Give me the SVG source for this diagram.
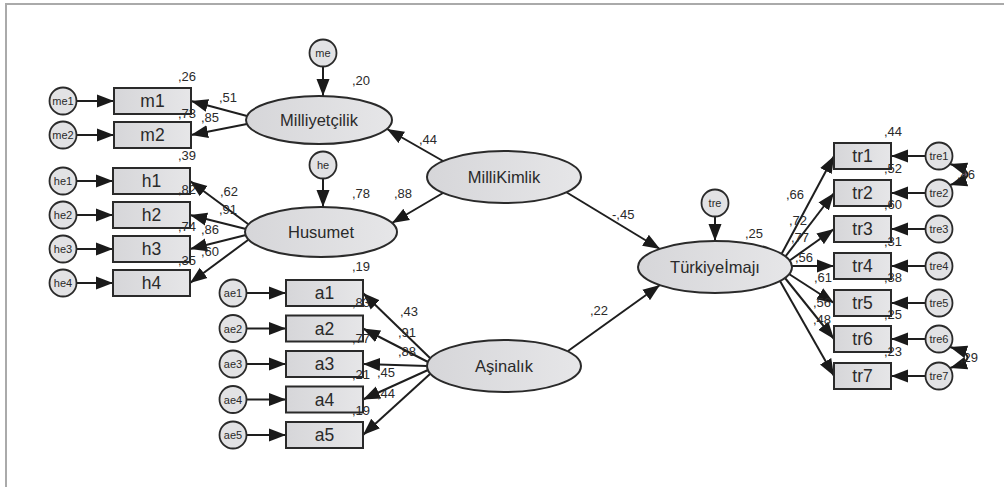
<svg xmlns="http://www.w3.org/2000/svg" width="1004" height="487" viewBox="0 0 1004 487">
<style>
.bg{fill:#fff}
.frame{stroke:#aaa;stroke-width:2;fill:none}
.obs{fill:url(#g);stroke:#2a2a2a;stroke-width:2}
.lat{fill:url(#g);stroke:#2a2a2a;stroke-width:2}
.err{fill:#e2e2e4;stroke:#2a2a2a;stroke-width:1.8}
.c{stroke:#1e1e1e;stroke-width:2;fill:none;marker-end:url(#ah)}
.cov{stroke:#1e1e1e;stroke-width:2;fill:none;marker-end:url(#ah);marker-start:url(#ah)}
text{font-family:"Liberation Sans",Arial,sans-serif;fill:#2a2a2a}
.ol{font-size:17.5px;text-anchor:middle}
.ll{font-size:16.5px;text-anchor:middle}
.el{font-size:11px;text-anchor:middle}
.k{font-size:13px}
</style>
<defs>
<linearGradient id="g" x1="0" y1="0" x2="1" y2="0">
<stop offset="0" stop-color="#d6d6d9"/>
<stop offset="1" stop-color="#e6e6e8"/>
</linearGradient>
<marker id="ah" markerWidth="18" markerHeight="14" refX="17" refY="7" orient="auto-start-reverse" markerUnits="userSpaceOnUse">
<path d="M0,0.5 L17,7 L0,13.5 z" fill="#1a1a1a"/>
</marker>
</defs>
<rect class="bg" x="0" y="0" width="1004" height="487"/>
<path class="frame" d="M6,487 L6,4 L1004,4"/>

<g id="connectors">
<line class="c" x1="76.5" y1="101" x2="114" y2="101"/>
<line class="c" x1="76.5" y1="135" x2="114" y2="135"/>
<line class="c" x1="76.5" y1="181" x2="113" y2="181"/>
<line class="c" x1="76.5" y1="215" x2="113" y2="215"/>
<line class="c" x1="76.5" y1="249" x2="113" y2="249"/>
<line class="c" x1="76.5" y1="283" x2="113" y2="283"/>
<line class="c" x1="246.5" y1="293" x2="286" y2="293"/>
<line class="c" x1="246.5" y1="328.5" x2="286" y2="328.5"/>
<line class="c" x1="246.5" y1="364" x2="286" y2="364"/>
<line class="c" x1="246.5" y1="399.5" x2="286" y2="399.5"/>
<line class="c" x1="246.5" y1="435" x2="286" y2="435"/>
<line class="c" x1="925.5" y1="156" x2="891" y2="156"/>
<line class="c" x1="925.5" y1="193" x2="891" y2="193"/>
<line class="c" x1="925.5" y1="229" x2="891" y2="229"/>
<line class="c" x1="925.5" y1="266" x2="891" y2="266"/>
<line class="c" x1="925.5" y1="303" x2="891" y2="303"/>
<line class="c" x1="925.5" y1="339" x2="891" y2="339"/>
<line class="c" x1="925.5" y1="376" x2="891" y2="376"/>
<line class="c" x1="323" y1="67" x2="323" y2="96"/>
<line class="c" x1="323" y1="178.5" x2="323" y2="207"/>
<line class="c" x1="715" y1="216.5" x2="715" y2="241"/>
<line class="c" x1="247" y1="116" x2="191" y2="101"/>
<line class="c" x1="247" y1="124" x2="191" y2="135"/>
<line class="c" x1="248" y1="224" x2="190" y2="181"/>
<line class="c" x1="246" y1="229" x2="190" y2="215"/>
<line class="c" x1="246" y1="235" x2="190" y2="249"/>
<line class="c" x1="248" y1="240" x2="190" y2="283"/>
<line class="c" x1="430" y1="358" x2="363" y2="293"/>
<line class="c" x1="428" y1="362" x2="363" y2="328.5"/>
<line class="c" x1="427" y1="366" x2="363" y2="364"/>
<line class="c" x1="428" y1="370" x2="363" y2="399.5"/>
<line class="c" x1="430" y1="374" x2="363" y2="435"/>
<line class="c" x1="443" y1="161" x2="387" y2="129"/>
<line class="c" x1="443" y1="193" x2="392" y2="223"/>
<line class="c" x1="566" y1="192" x2="660" y2="249"/>
<line class="c" x1="568" y1="351" x2="660" y2="285"/>
<line class="c" x1="781" y1="255" x2="834" y2="156"/>
<line class="c" x1="785" y1="257" x2="834" y2="193"/>
<line class="c" x1="789" y1="261" x2="834" y2="229"/>
<line class="c" x1="792" y1="266" x2="834" y2="266"/>
<line class="c" x1="789" y1="274" x2="834" y2="303"/>
<line class="c" x1="785" y1="278" x2="834" y2="339"/>
<line class="c" x1="780" y1="281" x2="834" y2="376"/>
<path class="cov" d="M950,164 Q985,174.5 950,185"/>
<path class="cov" d="M950,347 Q985,357.5 950,368"/>
</g>

<g id="Milliyetcilik"><ellipse class="lat" cx="319" cy="120" rx="73" ry="24"/><text class="ll" x="319" y="126">Milliyetçilik</text></g>
<g id="Husumet"><ellipse class="lat" cx="321" cy="232" rx="76" ry="25"/><text class="ll" x="321" y="238">Husumet</text></g>
<g id="MilliKimlik"><ellipse class="lat" cx="504" cy="177" rx="77" ry="26"/><text class="ll" x="504" y="183">MilliKimlik</text></g>
<g id="Asinalik"><ellipse class="lat" cx="504" cy="366" rx="77" ry="26"/><text class="ll" x="504" y="372">Aşinalık</text></g>
<g id="TurkiyeImaji"><ellipse class="lat" cx="715" cy="267" rx="77" ry="26"/><text class="ll" x="715" y="273">Türkiyeİmajı</text></g>

<g id="me"><circle class="err" cx="323" cy="53" r="13.5"/><text class="el" x="323" y="57">me</text></g>
<g id="he"><circle class="err" cx="323" cy="165" r="13.5"/><text class="el" x="323" y="169">he</text></g>
<g id="tre"><circle class="err" cx="715" cy="203" r="13.5"/><text class="el" x="715" y="207">tre</text></g>

<g id="m1"><rect class="obs" x="114" y="88" width="77" height="26"/><text class="ol" x="152.5" y="107">m1</text></g>
<g id="m2"><rect class="obs" x="114" y="122" width="77" height="26"/><text class="ol" x="152.5" y="141">m2</text></g>
<g id="h1"><rect class="obs" x="113" y="168" width="77" height="26"/><text class="ol" x="151.5" y="187">h1</text></g>
<g id="h2"><rect class="obs" x="113" y="202" width="77" height="26"/><text class="ol" x="151.5" y="221">h2</text></g>
<g id="h3"><rect class="obs" x="113" y="236" width="77" height="26"/><text class="ol" x="151.5" y="255">h3</text></g>
<g id="h4"><rect class="obs" x="113" y="270" width="77" height="26"/><text class="ol" x="151.5" y="289">h4</text></g>
<g id="a1"><rect class="obs" x="286" y="280" width="77" height="26"/><text class="ol" x="324.5" y="299">a1</text></g>
<g id="a2"><rect class="obs" x="286" y="315.5" width="77" height="26"/><text class="ol" x="324.5" y="334.5">a2</text></g>
<g id="a3"><rect class="obs" x="286" y="351" width="77" height="26"/><text class="ol" x="324.5" y="370">a3</text></g>
<g id="a4"><rect class="obs" x="286" y="386.5" width="77" height="26"/><text class="ol" x="324.5" y="405.5">a4</text></g>
<g id="a5"><rect class="obs" x="286" y="422" width="77" height="26"/><text class="ol" x="324.5" y="441">a5</text></g>
<g id="tr1"><rect class="obs" x="834" y="143" width="57" height="26"/><text class="ol" x="862.5" y="162">tr1</text></g>
<g id="tr2"><rect class="obs" x="834" y="180" width="57" height="26"/><text class="ol" x="862.5" y="199">tr2</text></g>
<g id="tr3"><rect class="obs" x="834" y="216" width="57" height="26"/><text class="ol" x="862.5" y="235">tr3</text></g>
<g id="tr4"><rect class="obs" x="834" y="253" width="57" height="26"/><text class="ol" x="862.5" y="272">tr4</text></g>
<g id="tr5"><rect class="obs" x="834" y="290" width="57" height="26"/><text class="ol" x="862.5" y="309">tr5</text></g>
<g id="tr6"><rect class="obs" x="834" y="326" width="57" height="26"/><text class="ol" x="862.5" y="345">tr6</text></g>
<g id="tr7"><rect class="obs" x="834" y="363" width="57" height="26"/><text class="ol" x="862.5" y="382">tr7</text></g>

<g id="me1"><circle class="err" cx="63" cy="101" r="13.5"/><text class="el" x="63" y="105">me1</text></g>
<g id="me2"><circle class="err" cx="63" cy="135" r="13.5"/><text class="el" x="63" y="139">me2</text></g>
<g id="he1"><circle class="err" cx="63" cy="181" r="13.5"/><text class="el" x="63" y="185">he1</text></g>
<g id="he2"><circle class="err" cx="63" cy="215" r="13.5"/><text class="el" x="63" y="219">he2</text></g>
<g id="he3"><circle class="err" cx="63" cy="249" r="13.5"/><text class="el" x="63" y="253">he3</text></g>
<g id="he4"><circle class="err" cx="63" cy="283" r="13.5"/><text class="el" x="63" y="287">he4</text></g>
<g id="ae1"><circle class="err" cx="233" cy="293" r="13.5"/><text class="el" x="233" y="297">ae1</text></g>
<g id="ae2"><circle class="err" cx="233" cy="328.5" r="13.5"/><text class="el" x="233" y="332.5">ae2</text></g>
<g id="ae3"><circle class="err" cx="233" cy="364" r="13.5"/><text class="el" x="233" y="368">ae3</text></g>
<g id="ae4"><circle class="err" cx="233" cy="399.5" r="13.5"/><text class="el" x="233" y="403.5">ae4</text></g>
<g id="ae5"><circle class="err" cx="233" cy="435" r="13.5"/><text class="el" x="233" y="439">ae5</text></g>
<g id="tre1"><circle class="err" cx="939" cy="156" r="13.5"/><text class="el" x="939" y="160">tre1</text></g>
<g id="tre2"><circle class="err" cx="939" cy="193" r="13.5"/><text class="el" x="939" y="197">tre2</text></g>
<g id="tre3"><circle class="err" cx="939" cy="229" r="13.5"/><text class="el" x="939" y="233">tre3</text></g>
<g id="tre4"><circle class="err" cx="939" cy="266" r="13.5"/><text class="el" x="939" y="270">tre4</text></g>
<g id="tre5"><circle class="err" cx="939" cy="303" r="13.5"/><text class="el" x="939" y="307">tre5</text></g>
<g id="tre6"><circle class="err" cx="939" cy="339" r="13.5"/><text class="el" x="939" y="343">tre6</text></g>
<g id="tre7"><circle class="err" cx="939" cy="376" r="13.5"/><text class="el" x="939" y="380">tre7</text></g>

<g id="labels">
<text class="k" x="178" y="81">,26</text>
<text class="k" x="219" y="102">,51</text>
<text class="k" x="178" y="118">,73</text>
<text class="k" x="201" y="122">,85</text>
<text class="k" x="352" y="85">,20</text>
<text class="k" x="178" y="160">,39</text>
<text class="k" x="178" y="194">,82</text>
<text class="k" x="220" y="196">,62</text>
<text class="k" x="219" y="214">,91</text>
<text class="k" x="178" y="231">,74</text>
<text class="k" x="201" y="234">,86</text>
<text class="k" x="178" y="265">,35</text>
<text class="k" x="201" y="256">,60</text>
<text class="k" x="352" y="198">,78</text>
<text class="k" x="394" y="198">,88</text>
<text class="k" x="419" y="144">,44</text>
<text class="k" x="352" y="271">,19</text>
<text class="k" x="352" y="307">,83</text>
<text class="k" x="400" y="316">,43</text>
<text class="k" x="352" y="343">,77</text>
<text class="k" x="398" y="337">,91</text>
<text class="k" x="398" y="356">,88</text>
<text class="k" x="352" y="379">,21</text>
<text class="k" x="377" y="377">,45</text>
<text class="k" x="377" y="398">,44</text>
<text class="k" x="352" y="415">,19</text>
<text class="k" x="612" y="219">-,45</text>
<text class="k" x="590" y="315">,22</text>
<text class="k" x="884" y="136">,44</text>
<text class="k" x="884" y="173">,52</text>
<text class="k" x="786" y="199">,66</text>
<text class="k" x="884" y="209">,60</text>
<text class="k" x="789" y="225">,72</text>
<text class="k" x="745" y="238">,25</text>
<text class="k" x="791" y="242">,77</text>
<text class="k" x="884" y="246">,31</text>
<text class="k" x="795" y="262">,56</text>
<text class="k" x="814" y="282">,61</text>
<text class="k" x="884" y="282">,38</text>
<text class="k" x="813" y="307">,56</text>
<text class="k" x="884" y="319">,25</text>
<text class="k" x="813" y="324">,48</text>
<text class="k" x="884" y="356">,23</text>
<text class="k" x="957" y="179">,46</text>
<text class="k" x="960" y="362">,29</text>
</g>
</svg>
